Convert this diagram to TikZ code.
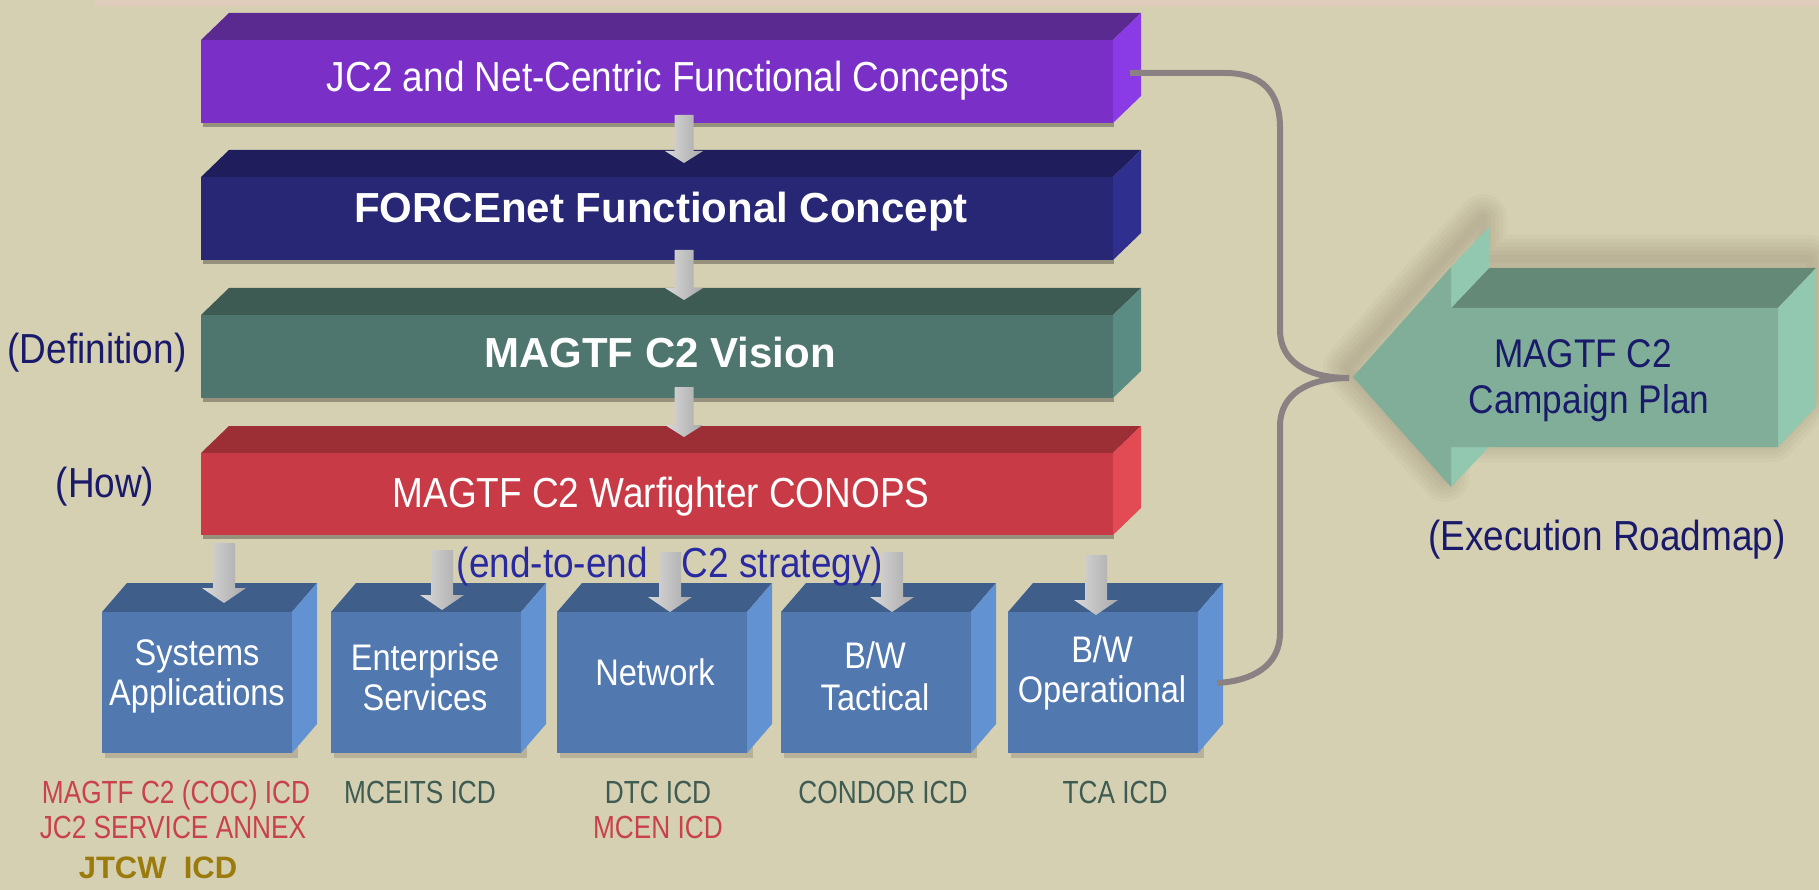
\documentclass[tikz,border=0pt]{standalone}
\usepackage{fontspec}
\setmainfont{Liberation Sans}
\newfontfamily\nf[FakeStretch=0.88]{Liberation Sans}
\newfontfamily\nff[FakeStretch=0.82]{Liberation Sans}
\newfontfamily\af{Liberation Sans}
\definecolor{bg}{HTML}{D6D0B3}
\definecolor{band}{HTML}{DFCDBC}
\definecolor{pfront}{HTML}{7A2FC6}
\definecolor{ptop}{HTML}{5A2A90}
\definecolor{pright}{HTML}{8B3BE6}
\definecolor{nfront}{HTML}{272775}
\definecolor{ntop}{HTML}{1F1D5C}
\definecolor{nright}{HTML}{2F2F90}
\definecolor{gfront}{HTML}{4F766E}
\definecolor{gtop}{HTML}{3D5A53}
\definecolor{gright}{HTML}{5B8C84}
\definecolor{rfront}{HTML}{C83B46}
\definecolor{rtop}{HTML}{9C2E36}
\definecolor{rright}{HTML}{E24A54}
\definecolor{cfront}{HTML}{5278B0}
\definecolor{ctop}{HTML}{3F5E8A}
\definecolor{cright}{HTML}{6392D2}
\definecolor{afront}{HTML}{80AE98}
\definecolor{atop}{HTML}{648A77}
\definecolor{aright}{HTML}{92C7B0}
\definecolor{brc}{HTML}{8A8282}
\definecolor{ga}{HTML}{DADADA}
\definecolor{gb}{HTML}{A8A8A8}
\definecolor{navy}{HTML}{1A1A6A}
\definecolor{blue2}{HTML}{2A2AA0}
\definecolor{lred}{HTML}{C8414B}
\definecolor{dkg}{HTML}{3E5C52}
\definecolor{olive}{HTML}{9A7B0C}
\definecolor{shad}{HTML}{5A4A30}

\tikzset{
  txt/.style={inner sep=0pt, anchor=base},
  bartxt/.style={txt, text=white, font=\nf\fontsize{42}{48}\selectfont},
  boldtxt/.style={txt, text=white, font=\af\bfseries\fontsize{42}{48}\selectfont},
  side/.style={txt, text=navy, font=\nf\fontsize{42}{48}\selectfont},
  camptxt/.style={txt, text=navy, font=\nf\fontsize{40}{46}\selectfont},
  cubetxt/.style={txt, text=white, font=\nf\fontsize{37}{40}\selectfont},
  icd/.style={txt, font=\nff\fontsize{32}{36}\selectfont},
  brace/.style={draw=brc, line width=6pt, line cap=butt},
}

% #1 name, #2 x1, #3 ytop (front), #4 x2, #5 ybottom, #6 front, #7 top, #8 right
\newcommand\slab[8]{%
  \fill[black,opacity=.3] ({#2+2},#5) rectangle ({#4+1},{#5+4});
  \fill[#7] (#2,#3) -- ({#2+28},{#3-27}) -- ({#4+28},{#3-27}) -- (#4,#3) -- cycle;
  \fill[#8] (#4,#3) -- ({#4+28},{#3-27}) -- ({#4+28},{#5-27}) -- (#4,#5) -- cycle;
  \fill[#6] (#2,#3) rectangle (#4,#5);
  \coordinate (#1) at ({(#2+#4)/2},{(#3+#5)/2});
}
% #1 name, #2 x1
\newcommand\mycube[2]{%
  \fill[black,opacity=.15] ({#2+3},616) rectangle ({#2+196},758);
  \fill[ctop] (#2,612) -- ({#2+25},583) -- ({#2+215},583) -- ({#2+190},612) -- cycle;
  \fill[cright] ({#2+190},612) -- ({#2+215},583) -- ({#2+215},724) -- ({#2+190},753) -- cycle;
  \fill[cfront] (#2,612) rectangle ({#2+190},753);
  \coordinate (#1) at ({#2+95},682);
}
% #1 name, #2 x, #3 ytop, #4 ytip, #5 shaft half width, #6 head half width, #7 head length
\newcommand\garrow[7]{%
  \coordinate (#1) at (#2,#4);
  \shade[left color=ga, right color=gb]
    ({#2-#5},#3) -- ({#2+#5},#3) -- ({#2+#5},{#4-#7}) -- ({#2+#6},{#4-#7})
    -- (#1) -- ({#2-#6},{#4-#7}) -- ({#2-#5},{#4-#7}) -- cycle;
}

\begin{document}
\begin{tikzpicture}[x=1pt,y=-1pt]
\useasboundingbox (0,0) rectangle (1819,890);
\fill[bg] (0,0) rectangle (1819,890);
\fill[band] (95,0) rectangle (1819,7);

% bars
\slab{jc2}{201}{40}{1113}{123}{pfront}{ptop}{pright}
\slab{fnet}{201}{177}{1113}{260}{nfront}{ntop}{nright}
\slab{vis}{201}{315}{1113}{398}{gfront}{gtop}{gright}
\slab{war}{201}{453}{1113}{535}{rfront}{rtop}{rright}

\node[bartxt] (t-jc2) at (668,92) {JC2 and Net-Centric Functional Concepts};
\node[boldtxt] (t-fnet) at (661,223) {FORCEnet Functional Concept};
\node[boldtxt] (t-vis) at (660,367) {MAGTF C2 Vision};
\node[bartxt] (t-war) at (661,507) {MAGTF C2 Warfighter CONOPS};

\node[side] (def) at (97,363) {(Definition)};
\node[side] (how) at (105,497) {(How)};

% cubes
\mycube{c1}{102}
\mycube{c2}{331}
\mycube{c3}{557}
\mycube{c4}{781}
\mycube{c5}{1008}

\node[cubetxt] (c1a) at (197,665) {Systems};
\node[cubetxt] (c1b) at (197,705) {Applications};
\node[cubetxt] (c2a) at (425,670) {Enterprise};
\node[cubetxt] (c2b) at (425,710) {Services};
\node[cubetxt] (c3a) at (655,685) {Network};
\node[cubetxt] (c4a) at (875,668) {B/W};
\node[cubetxt] (c4b) at (875,710) {Tactical};
\node[cubetxt] (c5a) at (1102,662) {B/W};
\node[cubetxt] (c5b) at (1102,702) {Operational};

\node[side, text=blue2] (e2e) at (670,577) {(end-to-end\hspace{34pt}C2 strategy)};

% gray arrows
\garrow{a1}{684}{115}{163}{9.5}{19}{12}
\garrow{a2}{684}{250}{300}{9.5}{19}{12}
\garrow{a3}{684}{387}{437}{9.5}{19}{12}
\garrow{b1}{224}{543}{603}{11}{22}{15}
\garrow{b2}{442}{550}{610}{11}{22}{15}
\garrow{b3}{670}{552}{612}{11}{22}{15}
\garrow{b4}{892}{552}{612}{11}{22}{15}
\garrow{b5}{1096}{555}{615}{11}{22}{15}

% ICD labels
\node[icd, text=lred] (l1) at (176,803) {MAGTF C2 (COC) ICD};
\node[icd, text=lred] (l2) at (173,838) {JC2 SERVICE ANNEX};
\node[txt, text=olive, font=\af\bfseries\fontsize{31}{34}\selectfont] (l3) at (158,878) {JTCW~~ICD};
\node[icd, text=dkg] (l4) at (420,803) {MCEITS ICD};
\node[icd, text=dkg] (l5) at (658,803) {DTC ICD};
\node[icd, text=lred] (l6) at (658,838) {MCEN ICD};
\node[icd, text=dkg] (l7) at (883,803) {CONDOR ICD};
\node[icd, text=dkg] (l8) at (1115,803) {TCA ICD};

% campaign arrow soft shadow
\foreach \w in {48,40,32,24,16,8}{
  \draw[shad, opacity=.035, line width=\w pt, line join=round]
    (1347,368) -- (1445,258) -- (1483,218) -- (1483,259) -- (1810,259) -- (1810,398) -- (1772,438) -- (1445,438) -- (1445,478) -- cycle;
}
% campaign arrow
\fill[atop] (1451,308) -- (1489,268) -- (1816,268) -- (1778,308) -- cycle;
\fill[aright] (1778,308) -- (1816,268) -- (1816,407) -- (1778,447) -- cycle;
\fill[aright] (1451,267) -- (1489,227) -- (1489,268) -- (1451,308) -- cycle;
\fill[aright] (1451,447) -- (1451,487) -- (1489,447) -- cycle;
\coordinate (camp-tip) at (1353,377);
\fill[afront] (camp-tip) -- (1451,267) -- (1451,308) -- (1778,308) -- (1778,447) -- (1451,447) -- (1451,487) -- cycle;
\node[camptxt] (camp1) at (1583,367) {MAGTF C2};
\node[camptxt] (camp2) at (1589,413) {Campaign Plan};
\node[side] (exec) at (1607,550) {(Execution Roadmap)};

% brace connector
\coordinate (jc2-r) at (1130,73);
\coordinate (c5-r) at (1217,683);
\coordinate (brace-tip) at (1349,378);
\draw[brace] (jc2-r) -- (1225,73) .. controls (1262,73) and (1280,92) .. (1280,128)
  -- (1280,330) .. controls (1280,362) and (1308,378) .. (brace-tip);
\draw[brace] (brace-tip) .. controls (1308,378) and (1280,394) .. (1280,426)
  -- (1280,633) .. controls (1280,666) and (1252,681) .. (c5-r);
\end{tikzpicture}
\end{document}
